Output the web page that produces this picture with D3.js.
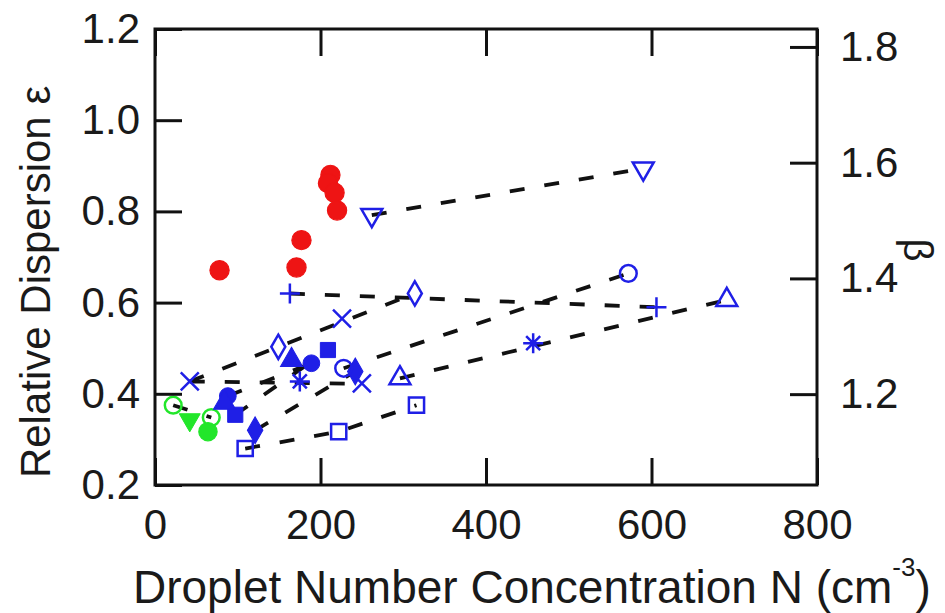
<!DOCTYPE html>
<html>
<head>
<meta charset="utf-8">
<script src="https://cdn.jsdelivr.net/npm/d3@7"></script>
<style>
  html, body { margin: 0; padding: 0; background: #fff; }
  svg { display: block; }
  text { font-family: "Liberation Sans", Arial, Helvetica, sans-serif; fill: #1a1a1a; }
</style>
</head>
<body>
<svg id="chart" width="945" height="613"></svg>
<script>
// ---------------- data ----------------
const xTicks = [0, 200, 400, 600, 800];
const yTicks = [0.2, 0.4, 0.6, 0.8, 1.0, 1.2];
const betaTicks = [1.2, 1.4, 1.6, 1.8];
const xDomain = [0, 800];
const yDomain = [0.2, 1.2];
const betaDomain = [1.043, 1.831];

// [N (cm^-3), relative dispersion]
const redFilledCircle = [[78, 0.671], [171, 0.677], [177, 0.737], [212, 0.880], [209, 0.862], [217, 0.841], [220, 0.802]];
const greenOpenCircle = [[22, 0.375], [68, 0.348]];
const greenFilledTriDown = [[42, 0.343]];
const greenFilledCircle = [[64, 0.317]];
const blueCross = [[42, 0.427], [226, 0.565], [250, 0.423]];
const blueOpenDiamond = [[149, 0.503], [314, 0.620]];
const blueFilledCircle = [[88, 0.395], [189, 0.467]];
const blueFilledSquare = [[97, 0.354], [209, 0.496]];
const blueFilledDiamond = [[121, 0.320], [242, 0.449]];
const blueFilledTriangle = [[84, 0.380], [165, 0.474]];
const blueAsterisk = [[175, 0.427], [457, 0.511]];
const blueOpenCircle = [[228, 0.456], [572, 0.664]];
const blueOpenTriangle = [[296, 0.434], [691, 0.606]];
const blueOpenSquare = [[109, 0.280], [222, 0.317], [316, 0.375]];
const bluePlus = [[163, 0.620], [606, 0.590]];
const blueOpenTriDown = [[262, 0.792], [590, 0.894]];

// dashed trend lines: lists of [N, epsilon]
const trendLines = [
  [[262, 0.792], [590, 0.894]],
  [[163, 0.620], [606, 0.590]],
  [[42, 0.427], [314, 0.620]],
  [[42, 0.427], [250, 0.422]],
  [[228, 0.456], [572, 0.664]],
  [[296, 0.434], [691, 0.606]],
  [[109, 0.280], [222, 0.317], [316, 0.375]],
  [[121, 0.320], [242, 0.449]],
  [[88, 0.395], [189, 0.467]],
  [[97, 0.354], [209, 0.496]],
  [[22, 0.375], [68, 0.348]]
];

// ---------------- layout & styles ----------------
const M = { left: 155, right: 817, top: 29, bottom: 485 };
const BLUE = "#1f1fe6", RED = "#ee1414", GREEN = "#22e62a";
const tickLen = 27;

const svg = d3.select("#chart");
const x = d3.scaleLinear().domain(xDomain).range([M.left, M.right]);
const y = d3.scaleLinear().domain(yDomain).range([M.bottom, M.top]);
const yb = d3.scaleLinear().domain(betaDomain).range([M.bottom, M.top]);

// dashed lines
const lineGen = d3.line().x(d => x(d[0])).y(d => y(d[1]));
svg.append("g").selectAll("path").data(trendLines).join("path")
  .attr("d", lineGen)
  .attr("fill", "none")
  .attr("stroke", "#111")
  .attr("stroke-width", 3.8)
  .attr("stroke-dasharray", "15,20");

// markers
const symPath = {
  circle: d3.symbol(d3.symbolCircle, 220)(),
  square: d3.symbol(d3.symbolSquare, 230)(),
  triangle: d3.symbol(d3.symbolTriangle, 190)(),
  diamond: d3.symbol(d3.symbolDiamond, 170)(),
  cross: "M-9,-9L9,9M-9,9L9,-9",
  plus: "M-10,0L10,0M0,-10L0,10",
  asterisk: "M-10,0L10,0M0,-10L0,10M-7,-7L7,7M-7,7L7,-7"
};
const seriesStyles = [
  { data: redFilledCircle, sym: "circle", color: RED, filled: true, size: 1.15 },
  { data: greenOpenCircle, sym: "circle", color: GREEN, filled: false, size: 1 },
  { data: greenFilledTriDown, sym: "triangle", color: GREEN, filled: true, rot: 180, size: 1 },
  { data: greenFilledCircle, sym: "circle", color: GREEN, filled: true, size: 1.1 },
  { data: blueCross, sym: "cross", color: BLUE, filled: false, size: 1 },
  { data: blueOpenDiamond, sym: "diamond", color: BLUE, filled: false, size: 1 },
  { data: blueFilledCircle, sym: "circle", color: BLUE, filled: true, size: 1 },
  { data: blueFilledSquare, sym: "square", color: BLUE, filled: true, size: 1 },
  { data: blueFilledDiamond, sym: "diamond", color: BLUE, filled: true, size: 1.1 },
  { data: blueFilledTriangle, sym: "triangle", color: BLUE, filled: true, size: 1.05 },
  { data: blueAsterisk, sym: "asterisk", color: BLUE, filled: false, size: 1 },
  { data: blueOpenCircle, sym: "circle", color: BLUE, filled: false, size: 1 },
  { data: blueOpenTriangle, sym: "triangle", color: BLUE, filled: false, size: 1 },
  { data: blueOpenSquare, sym: "square", color: BLUE, filled: false, size: 1 },
  { data: bluePlus, sym: "plus", color: BLUE, filled: false, size: 1 },
  { data: blueOpenTriDown, sym: "triangle", color: BLUE, filled: false, rot: 180, size: 1 }
];
const mg = svg.append("g");
seriesStyles.forEach(s => {
  mg.append("g").selectAll("path").data(s.data).join("path")
    .attr("d", symPath[s.sym])
    .attr("transform", d => `translate(${x(d[0])},${y(d[1])}) rotate(${s.rot || 0}) scale(${s.size})`)
    .attr("fill", s.filled ? s.color : "none")
    .attr("stroke", s.color)
    .attr("stroke-width", s.filled ? 1 : 2.5 / s.size);
});

// axes (inward ticks)
function styleAxis(g) {
  g.select(".domain").remove();
  g.selectAll(".tick line").attr("stroke", "#111").attr("stroke-width", 3);
  g.selectAll(".tick text").attr("font-size", 42).attr("fill", "#1a1a1a")
    .attr("font-family", "'Liberation Sans', Arial, Helvetica, sans-serif");
}
svg.append("g").attr("transform", `translate(0,${M.bottom})`)
  .call(d3.axisBottom(x).tickValues(xTicks).tickSize(-tickLen).tickPadding(24).tickFormat(d3.format("d")))
  .call(styleAxis);
svg.append("g").attr("transform", `translate(0,${M.top})`)
  .call(d3.axisTop(x).tickValues(xTicks).tickSize(-tickLen).tickFormat(""))
  .call(styleAxis);
svg.append("g").attr("transform", `translate(${M.left},0)`)
  .call(d3.axisLeft(y).tickValues(yTicks).tickSize(-tickLen).tickPadding(15).tickFormat(d3.format(".1f")))
  .call(styleAxis);
svg.append("g").attr("transform", `translate(${M.right},0)`)
  .call(d3.axisRight(yb).tickValues(betaTicks).tickSize(-tickLen).tickPadding(23).tickFormat(d3.format(".1f")))
  .call(styleAxis);

// frame
svg.append("rect")
  .attr("x", M.left).attr("y", M.top)
  .attr("width", M.right - M.left).attr("height", M.bottom - M.top)
  .attr("fill", "none").attr("stroke", "#111").attr("stroke-width", 3);

// axis titles
svg.append("text")
  .attr("transform", "translate(50,282) rotate(-90)")
  .attr("text-anchor", "middle")
  .attr("font-size", 42)
  .text("Relative Dispersion ε");

svg.append("text")
  .attr("transform", "translate(904,250) rotate(90)")
  .attr("text-anchor", "middle")
  .attr("font-size", 40)
  .text("β");

const xt = svg.append("text")
  .attr("x", 133).attr("y", 603)
  .attr("font-size", 46);
xt.append("tspan").text("Droplet Number Concentration N (cm");
xt.append("tspan").attr("font-size", 26).attr("dy", -27).text("-3");
xt.append("tspan").attr("dy", 27).text(")");
</script>
</body>
</html>
